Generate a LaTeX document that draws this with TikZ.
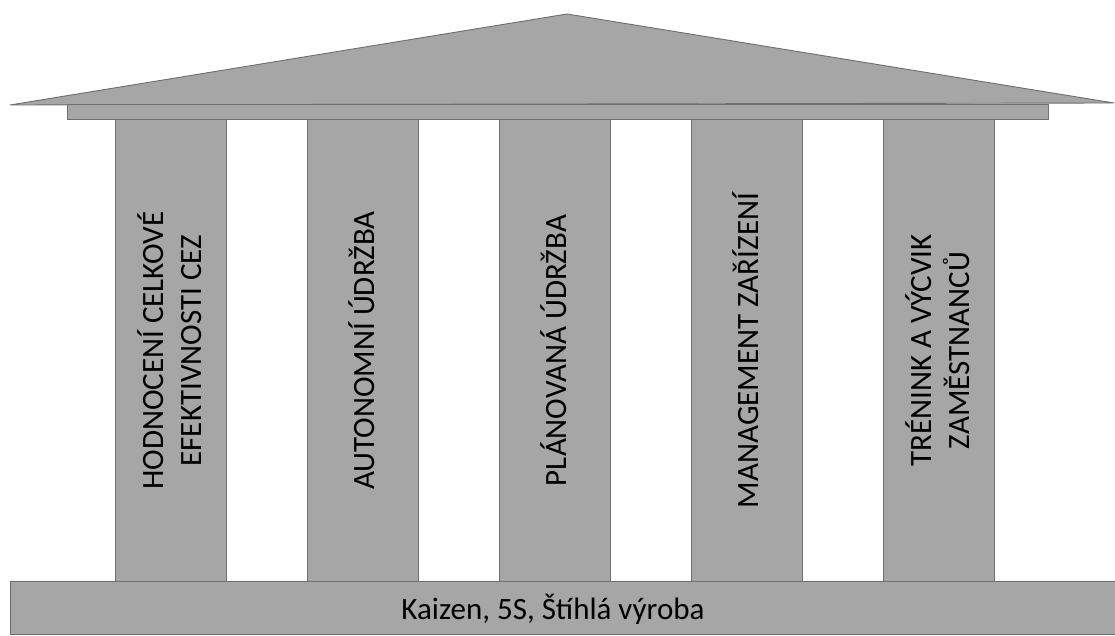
\documentclass[tikz,border=0pt]{standalone}
\usepackage{fontspec}
\setmainfont{Carlito}
\definecolor{pfill}{HTML}{A6A6A6}
\definecolor{pline}{HTML}{6E6E6E}
\begin{document}
\begin{tikzpicture}[x=1pt,y=1pt,
  part/.style={fill=pfill,draw=pline,line width=0.9pt},
  pillar/.style={part,minimum width=111pt,minimum height=462pt,inner sep=0pt,anchor=south west},
  ptext/.style={rotate=90,align=center,font=\fontsize{31}{38}\selectfont,text=black}]
\useasboundingbox (0,0) rectangle (1115,635);
\fill[white] (0,0) rectangle (1115,635);
% roof
\draw[part,line join=round] (10,530) -- (567,621) -- (1114,532) -- cycle;
% beam
\node[part,minimum width=981pt,minimum height=15pt,inner sep=0pt,anchor=south west] (beam) at (67,515) {};
% pillars
\node[pillar] (p1) at (115,53) {};
\node[pillar] (p2) at (307,53) {};
\node[pillar] (p3) at (499,53) {};
\node[pillar] (p4) at (691,53) {};
\node[pillar] (p5) at (883,53) {};
\node[ptext] (t1) at ([xshift=-1.5pt]p1.center) {HODNOCENÍ CELKOVÉ\\EFEKTIVNOSTI CEZ};
\node[ptext] (t2) at ([xshift=-1.5pt]p2.center) {AUTONOMNÍ ÚDRŽBA};
\node[ptext] (t3) at ([xshift=-1.5pt]p3.center) {PLÁNOVANÁ ÚDRŽBA};
\node[ptext] (t4) at ([xshift=-1.5pt]p4.center) {MANAGEMENT ZAŘÍZENÍ};
\node[ptext] (t5) at ([xshift=-1.5pt]p5.center) {TRÉNINK A VÝCVIK\\ZAMĚSTNANCŮ};
% base
\node[part,minimum width=1110pt,minimum height=53pt,inner sep=0pt,anchor=south west] (base) at (10,0) {};
\node[font=\fontsize{31}{36}\selectfont] (bt) at (553,26) {Kaizen, 5S, Štíhlá výroba};
\end{tikzpicture}
\end{document}
